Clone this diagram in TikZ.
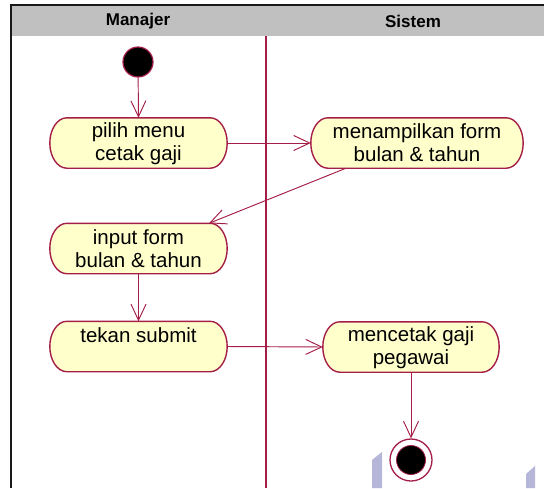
\documentclass[tikz,border=0pt]{standalone}
\usepackage{fontspec}
\setmainfont{Liberation Sans}
\usetikzlibrary{arrows.meta,backgrounds}

\definecolor{uml}{RGB}{164,30,72}
\definecolor{actfill}{RGB}{255,255,204}
\definecolor{headgrey}{RGB}{192,192,192}
\definecolor{palemark}{RGB}{182,182,216}

% strut giving every activity line the same height and depth
\newcommand\lstrut{\rule[-3pt]{0pt}{20pt}}

\tikzset{
  act/.style={rectangle, inner sep=0pt, minimum height=50pt, align=center,
    font=\fontsize{20.5pt}{23pt}\selectfont},
  flow/.style={draw=uml, line width=0.95pt,
    -{Straight Barb[length=16pt,width=15pt,line width=0.95pt]}},
  lane/.style={draw=uml, line width=1.2pt},
  outline/.style={draw=uml, line width=1.4pt, fill=actfill},
  lanehead/.style={font=\fontsize{17pt}{19pt}\selectfont\bfseries},
}

\begin{document}
\begin{tikzpicture}[x=1pt,y=-1pt]
\useasboundingbox (0,0) rectangle (544,488);

% swimlane frame and header
\fill[headgrey] (12,6) rectangle (544,36);
\draw[line width=2pt, black!90] (11,5) -- (544,5);
\draw[line width=2pt, black!90] (11,4) -- (11,488);
\draw[lane] (266,36) -- (266,488);
\node[lanehead] (hm) at (138,21) {Manajer};
\node[lanehead] (hs) at (413,21) {Sistem};

% start and end states
\node[circle, fill=black, draw=uml, line width=1.2pt, minimum size=30pt, inner sep=0pt] (s) at (138,62) {};
\node[circle, fill=white, draw=uml, line width=1.3pt, minimum size=42pt, inner sep=0pt] (f) at (411,460) {};
\node[circle, fill=black, draw=uml, line width=0.8pt, minimum size=29pt, inner sep=0pt] (fi) at (f.center) {};

% activities
\node[act, minimum width=177pt] (a1) at (138.5,143) {\lstrut pilih menu\\\lstrut cetak gaji};
\node[act, minimum width=177pt] (a2) at (138.5,248.5) {\lstrut input form\\\lstrut bulan \& tahun};
\node[act, minimum width=177pt] (a3) at (138.5,346.5) {\lstrut tekan submit\\\lstrut};
\node[act, minimum width=212pt] (b1) at (417,143) {\lstrut menampilkan form\\\lstrut bulan \& tahun};
\node[act, minimum width=176pt] (b2) at (411,347) {\lstrut mencetak gaji\\\lstrut pegawai};

% rounded outlines behind the activity texts
\begin{scope}[on background layer]
\foreach \n in {a1,a2,a3,b1,b2} {
  \draw[outline] ([xshift=17pt]\n.north west) -- ([xshift=-17pt]\n.north east)
    .. controls ([xshift=-7.6pt]\n.north east) and ([yshift=13.8pt]\n.east) .. (\n.east)
    .. controls ([yshift=-13.8pt]\n.east) and ([xshift=-7.6pt]\n.south east) .. ([xshift=-17pt]\n.south east)
    -- ([xshift=17pt]\n.south west)
    .. controls ([xshift=7.6pt]\n.south west) and ([yshift=-13.8pt]\n.west) .. (\n.west)
    .. controls ([yshift=13.8pt]\n.west) and ([xshift=7.6pt]\n.north west) .. ([xshift=17pt]\n.north west)
    -- cycle;
}
\end{scope}

% control flow
\draw[flow] (s) -- (a1.north);
\draw[flow] (a1.east) -- (b1.west);
\draw[flow] ([xshift=-71pt]b1.south) -- ([xshift=70.5pt]a2.north);
\draw[flow] (a2.south) -- (a3.north);
\draw[flow] (a3.east) -- (b2.west);
\draw[flow] (b2.south) -- (f.north);

% pale marks along the bottom edge
\fill[palemark] (372,460) -- (382,452) -- (382,488) -- (372,488) -- cycle;
\fill[palemark] (526,474) -- (535,466) -- (535,488) -- (526,488) -- cycle;
\end{tikzpicture}
\end{document}
